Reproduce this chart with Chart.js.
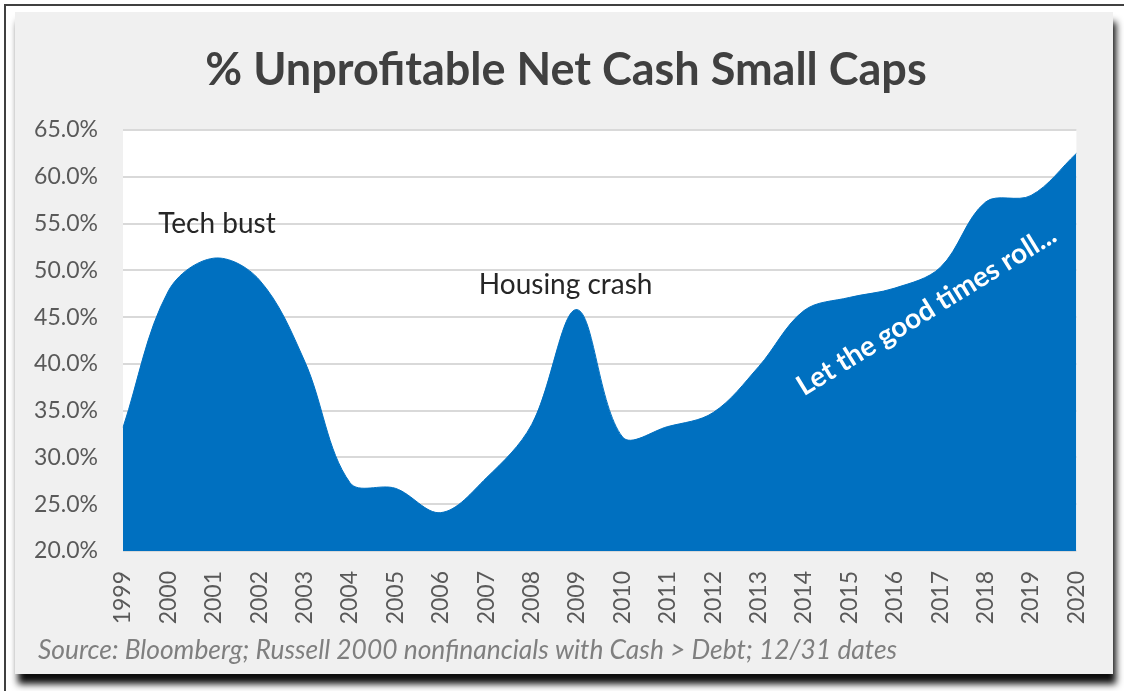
<!DOCTYPE html>
<html>
<head>
<meta charset="utf-8">
<title>% Unprofitable Net Cash Small Caps</title>
<script src="https://cdn.jsdelivr.net/npm/chart.js@4"></script>
<style>
    html, body { margin: 0; padding: 0; background: #ffffff; }
    #chartBox { width: 1124px; height: 691px; }
</style>
</head>
<body>
<div id="chartBox"><canvas id="unprofitableChart"></canvas></div>
<script>
const years = ["1999", "2000", "2001", "2002", "2003", "2004", "2005", "2006", "2007", "2008", "2009",
    "2010", "2011", "2012", "2013", "2014", "2015", "2016", "2017", "2018", "2019", "2020"];
const unprofitablePct = [33.2, 47.8, 51.3, 49.0, 40.3, 27.3, 26.7, 24.1, 27.8, 33.5, 45.8,
    32.2, 33.3, 34.8, 39.7, 45.7, 47.1, 48.1, 50.3, 57.3, 58.0, 62.5];
const yTickValues = [20, 25, 30, 35, 40, 45, 50, 55, 60, 65];

const chartTitle = "% Unprofitable Net Cash Small Caps";
const sourceNote = "Source: Bloomberg; Russell 2000 nonfinancials with Cash > Debt; 12/31 dates";

// callouts: text, category index, value
const callouts = [
    { text: "Tech bust", at: 2.07, value: 55.0 },
    { text: "Housing crash", at: 9.75, value: 48.4 }
];
const rallyText = "Let the good times roll...";

const FONT = "Lato, 'Open Sans', sans-serif";
const BLUE = "#0070C0";

const framePlugin = {
    id: "frame",
    beforeDraw(chart) {
        const ctx = chart.ctx;
        const area = chart.chartArea;
        ctx.save();
        ctx.fillStyle = "#ffffff";
        ctx.fillRect(0, 0, chart.width, chart.height);

        // outer dark rule on top and left
        ctx.fillStyle = "#404040";
        ctx.fillRect(4, 4, chart.width - 4, 2);
        ctx.fillRect(4, 4, 2, chart.height - 4);

        // panel with drop shadow
        ctx.shadowColor = "rgba(0, 0, 0, 0.95)";
        ctx.shadowBlur = 7;
        ctx.shadowOffsetX = 3;
        ctx.shadowOffsetY = 10;
        ctx.fillStyle = "#f0f0f0";
        ctx.fillRect(15, 12, 1098, 662);
        ctx.shadowColor = "transparent";
        ctx.fillRect(15, 12, 1098, 662);

        // white plot area
        ctx.fillStyle = "#ffffff";
        ctx.fillRect(area.left, area.top, area.right - area.left, area.bottom - area.top);

        // title
        ctx.fillStyle = "#404040";
        ctx.font = "bold 45px " + FONT;
        ctx.textAlign = "center";
        ctx.textBaseline = "middle";
        ctx.fillText(chartTitle, 566, 70);

        // source line
        ctx.fillStyle = "#7f7f7f";
        ctx.font = "italic 26.4px " + FONT;
        ctx.textAlign = "left";
        ctx.textBaseline = "alphabetic";
        ctx.fillText(sourceNote, 38, 659);
        ctx.restore();
    },
    afterDatasetsDraw(chart) {
        const ctx = chart.ctx;
        const xs = chart.scales.x;
        const ys = chart.scales.y;
        ctx.save();
        ctx.fillStyle = "#262626";
        ctx.font = "28px " + FONT;
        ctx.textAlign = "center";
        ctx.textBaseline = "middle";
        for (const c of callouts) {
            ctx.fillText(c.text, xs.getPixelForValue(c.at), ys.getPixelForValue(c.value));
        }

        // slanted label inside the recent climb
        ctx.translate(xs.getPixelForValue(17.7), ys.getPixelForValue(45.7));
        ctx.rotate(-31.6 * Math.PI / 180);
        ctx.fillStyle = "#ffffff";
        ctx.font = "bold 28px " + FONT;
        ctx.fillText(rallyText, 0, 0);
        ctx.restore();
    }
};

new Chart(document.getElementById("unprofitableChart").getContext("2d"), {
    type: "line",
    data: {
        labels: years,
        datasets: [{
            data: unprofitablePct,
            backgroundColor: BLUE,
            borderColor: BLUE,
            borderWidth: 1,
            fill: "start",
            tension: 0.35,
            pointRadius: 0
        }]
    },
    options: {
        responsive: true,
        maintainAspectRatio: false,
        animation: false,
        events: [],
        layout: {
            padding: { left: 20, right: 47, top: 130, bottom: 40 }
        },
        plugins: {
            legend: { display: false },
            title: { display: false },
            tooltip: { enabled: false }
        },
        scales: {
            x: {
                offset: false,
                grid: { display: false, drawTicks: false },
                border: { display: false },
                ticks: {
                    color: "#595959",
                    font: { family: FONT, size: 23 },
                    minRotation: 90,
                    maxRotation: 90,
                    autoSkip: false,
                    padding: 20
                },
                afterFit(scale) {
                    scale.height = 100;
                }
            },
            y: {
                min: 20,
                max: 65,
                afterBuildTicks(scale) {
                    scale.ticks = yTickValues.map(v => ({ value: v }));
                },
                grid: { color: "#d9d9d9", lineWidth: 2, drawTicks: false },
                border: { display: false },
                ticks: {
                    color: "#595959",
                    font: { family: FONT, size: 23 },
                    padding: 25,
                    callback: v => v.toFixed(1) + "%"
                },
                afterFit(scale) {
                    scale.width = 103;
                }
            }
        }
    },
    plugins: [framePlugin]
});
</script>
</body>
</html>
